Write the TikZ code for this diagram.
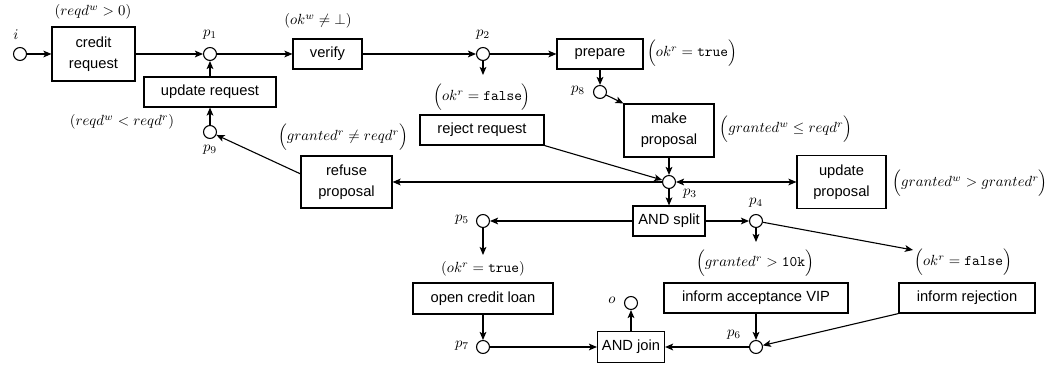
\documentclass[tikz,border=0pt]{standalone}
\usepackage{fontspec}
\setmainfont{Liberation Sans}
\usetikzlibrary{arrows.meta}
\begin{document}
\begin{tikzpicture}[x=0.68pt,y=-0.68pt,
  box/.style={draw,line width=0.75pt,inner sep=0pt,align=center,font=\fontsize{10}{14.5}\selectfont},
  place/.style={draw,circle,line width=0.75pt,inner sep=0pt,minimum size=8.8pt},
  lab/.style={inner sep=0pt},
  tip/.tip={Stealth[length=5.5pt,width=4.6pt,inset=1.3pt]},
  arr/.style={line width=0.75pt,-tip},
  darr/.style={line width=0.75pt,tip-tip}]
\useasboundingbox (0,0) rectangle (1054,367);
% row 1
\node[place] (i) at (20,54) {};
\node[lab] (li) at (16,35) {$i$};
\node[box,minimum width=83*0.68pt,minimum height=54*0.68pt] (credit) at (93.5,54) {credit\\request};
\node[lab] (g1) at (93,12) {$(reqd^w>0)$};
\node[place] (p1) at (210,54) {};
\node[lab] (lp1) at (210,35) {$p_1$};
\node[box,minimum width=69*0.68pt,minimum height=30*0.68pt] (verify) at (327.5,54) {verify};
\node[lab] (g2) at (318,21) {$(ok^w\neq\bot)$};
\node[place] (p2) at (483,54) {};
\node[lab] (lp2) at (483,35) {$p_2$};
\node[box,minimum width=86*0.68pt,minimum height=30*0.68pt] (prepare) at (600,54) {prepare};
\node[lab] (g3) at (692,53) {$\Bigl(ok^r=\texttt{true}\Bigr)$};
% row 2
\node[box,minimum width=132*0.68pt,minimum height=30*0.68pt] (upreq) at (210,92) {update request};
\node[place] (p9) at (210,132) {};
\node[lab] (lp9) at (210,150) {$p_9$};
\node[lab] (g4) at (122,122) {$(reqd^w<reqd^r)$};
\coordinate (c2) at (483,75);
\node[lab] (g5) at (482,97) {$\Bigl(ok^r=\texttt{false}\Bigr)$};
\node[box,minimum width=124*0.68pt,minimum height=30*0.68pt] (reject) at (482,130) {reject request};
\node[place] (p8) at (600,92) {};
\node[lab] (lp8) at (578,91) {$p_8$};
\node[box,minimum width=90*0.68pt,minimum height=53*0.68pt] (mkprop) at (669,130.5) {make\\proposal};
\node[lab] (g6) at (786,129) {$\Bigl(granted^w\leq reqd^r\Bigr)$};
\node[lab] (g7) at (343,137) {$\Bigl(granted^r\neq reqd^r\Bigr)$};
% row 3
\node[box,minimum width=91*0.68pt,minimum height=52*0.68pt] (refuse) at (346.5,182) {refuse\\proposal};
\node[place] (p3) at (669,182) {};
\node[lab] (lp3) at (690,194) {$p_3$};
\node[box,minimum width=89*0.68pt,minimum height=53*0.68pt] (upprop) at (841.5,182) {update\\proposal};
\node[lab] (g8) at (970,183) {$\Bigl(granted^w>granted^r\Bigr)$};
\node[box,minimum width=72*0.68pt,minimum height=30*0.68pt] (split) at (669,221) {AND split};
\node[place] (p5) at (483,221) {};
\node[lab] (lp5) at (462,220) {$p_5$};
\node[place] (p4) at (756,221) {};
\node[lab] (lp4) at (756,203) {$p_4$};
\coordinate (c5) at (483,255);
\coordinate (c4) at (756,242);
\coordinate (c4b) at (913,250);
\node[lab] (g9) at (483,269) {$(ok^r=\texttt{true})$};
\node[lab] (g10) at (755,263) {$\Bigl(granted^r>\texttt{10k}\Bigr)$};
\node[lab] (g11) at (963,262) {$\Bigl(ok^r=\texttt{false}\Bigr)$};
% row 4
\node[box,minimum width=140*0.68pt,minimum height=31*0.68pt] (open) at (483,298.5) {open credit loan};
\node[box,minimum width=184*0.68pt,minimum height=30*0.68pt] (vip) at (756,298) {inform acceptance VIP};
\node[box,minimum width=136*0.68pt,minimum height=30*0.68pt] (inrej) at (967,298) {inform rejection};
\node[place] (o) at (631,303) {};
\node[lab] (lo) at (612,300) {$o$};
\node[box,minimum width=67*0.68pt,minimum height=31*0.68pt] (join) at (631,347) {AND join};
\node[place] (p7) at (483,347) {};
\node[lab] (lp7) at (462,346) {$p_7$};
\node[place] (p6) at (756,347) {};
\node[lab] (lp6) at (734,335) {$p_6$};
% arcs
\draw[arr] (i) -- (credit);
\draw[arr] (credit) -- (p1);
\draw[arr] (upreq) -- (p1);
\draw[arr] (p9) -- (upreq);
\draw[arr] (p1) -- (verify);
\draw[arr] (verify) -- (p2);
\draw[arr] (p2) -- (prepare);
\draw[arr] (p2) -- (c2);
\draw[arr] (prepare) -- (p8);
\draw[arr] (p8) -- (mkprop.north west);
\draw[arr] (mkprop) -- (p3);
\draw[arr] (reject.south east) -- (p3);
\draw[arr] (p3) -- (refuse);
\draw[arr] (refuse.170) -- (p9);
\draw[darr] (p3) -- (upprop);
\draw[arr] (p3) -- (split);
\draw[arr] (split) -- (p5);
\draw[arr] (split) -- (p4);
\draw[arr] (p5) -- (c5);
\draw[arr] (p4) -- (c4);
\draw[arr] (p4) -- (c4b);
\draw[arr] (open) -- (p7);
\draw[arr] (p7) -- (join);
\draw[arr] (vip) -- (p6);
\draw[arr] (inrej.south west) -- (p6);
\draw[arr] (p6) -- (join);
\draw[arr] (join) -- (o);
\end{tikzpicture}
\end{document}
